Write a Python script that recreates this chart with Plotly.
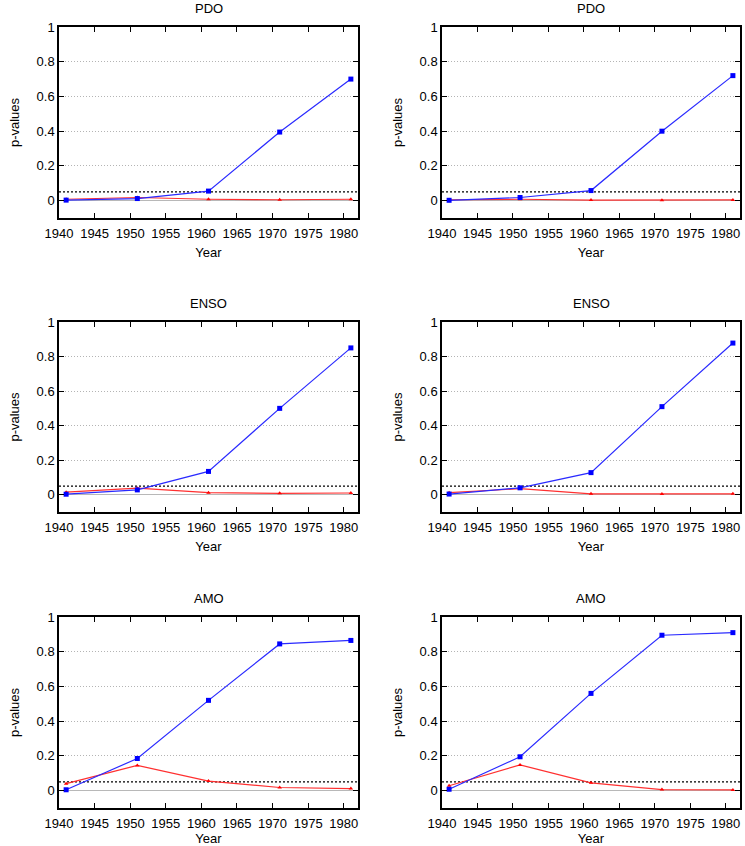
import plotly.graph_objects as go

years = [1941, 1951, 1961, 1971, 1981]
titles = ["PDO", "PDO", "ENSO", "ENSO", "AMO", "AMO"]

blue_vals = [
    [0.003, 0.012, 0.055, 0.395, 0.700],
    [0.002, 0.018, 0.058, 0.400, 0.720],
    [0.003, 0.028, 0.135, 0.500, 0.850],
    [0.004, 0.040, 0.128, 0.510, 0.878],
    [0.005, 0.185, 0.520, 0.845, 0.865],
    [0.008, 0.195, 0.560, 0.895, 0.910],
]
red_vals = [
    [0.008, 0.018, 0.008, 0.005, 0.008],
    [0.005, 0.008, 0.003, 0.002, 0.004],
    [0.015, 0.038, 0.012, 0.008, 0.010],
    [0.012, 0.035, 0.005, 0.004, 0.005],
    [0.040, 0.145, 0.055, 0.018, 0.012],
    [0.028, 0.148, 0.045, 0.006, 0.004],
]
threshold = 0.05
x_range = [1940, 1982]
y_range = [-0.1, 1.0]
x_ticks = [1940, 1945, 1950, 1955, 1960, 1965, 1970, 1975, 1980]
y_ticks = [0, 0.2, 0.4, 0.6, 0.8, 1]
y_ticklabels = ["0", "0.2", "0.4", "0.6", "0.8", "1"]

W, H = 745, 846
col_px = [(59, 358), (442, 740)]
row_px = [(27, 218), (322, 512), (617, 808)]

fig = go.Figure()
font = dict(family="Liberation Sans, Arial, sans-serif", size=13, color="black")
layout = {}
annotations = []
for i in range(6):
    r, c = divmod(i, 2)
    x0, x1 = col_px[c]
    yt, yb = row_px[r]
    xd = [x0 / W, x1 / W]
    yd = [1 - yb / H, 1 - yt / H]
    n = "" if i == 0 else str(i + 1)
    xa, ya = "x" + n, "y" + n
    layout["xaxis" + n] = dict(
        domain=xd, anchor=ya, range=x_range, tickvals=x_ticks,
        ticks="inside", ticklen=5, tickcolor="black", showline=True,
        linecolor="black", linewidth=1.5, mirror="ticks", showgrid=False,
        zeroline=False, tickfont=font, automargin=False, ticklabelstandoff=3,
        title=dict(text="Year", font=font, standoff=8),
    )
    layout["yaxis" + n] = dict(
        domain=yd, anchor=xa, range=y_range, tickvals=y_ticks,
        ticktext=y_ticklabels, ticks="inside", ticklen=5, tickcolor="black",
        showline=True, linecolor="black", linewidth=1.5, mirror="ticks",
        showgrid=True, gridcolor="#b4b4b4", griddash="1px,2px", gridwidth=1,
        zeroline=True, zerolinecolor="#b8b8b8", zerolinewidth=1,
        tickfont=font, automargin=False,
        title=dict(text="p-values", font=font, standoff=14),
    )
    fig.add_trace(go.Scatter(
        x=x_range, y=[threshold, threshold], mode="lines",
        line=dict(color="black", width=1.3, dash="2px,2px"),
        xaxis=xa, yaxis=ya, showlegend=False, hoverinfo="skip",
    ))
    fig.add_trace(go.Scatter(
        x=years, y=red_vals[i], mode="lines+markers",
        line=dict(color="#ff3030", width=1.2),
        marker=dict(symbol="triangle-up", size=4, color="#ff0000"),
        xaxis=xa, yaxis=ya, showlegend=False,
    ))
    fig.add_trace(go.Scatter(
        x=years, y=blue_vals[i], mode="lines+markers",
        line=dict(color="#2a2aff", width=1.2),
        marker=dict(symbol="square", size=5, color="#0000ff"),
        xaxis=xa, yaxis=ya, showlegend=False,
    ))
    annotations.append(dict(
        text=titles[i], x=(xd[0] + xd[1]) / 2, y=1 - (yt - 19) / H,
        xref="paper", yref="paper", showarrow=False, font=font,
        xanchor="center", yanchor="middle",
    ))

fig.update_layout(
    width=W, height=H, margin=dict(l=0, r=0, t=0, b=0, autoexpand=False),
    paper_bgcolor="white", plot_bgcolor="white",
    annotations=annotations, font=font, **layout,
)
fig.write_html(
    "out.html",
    config={"displayModeBar": False},
    post_script="document.body.style.margin='0';document.body.style.padding='0';",
)
